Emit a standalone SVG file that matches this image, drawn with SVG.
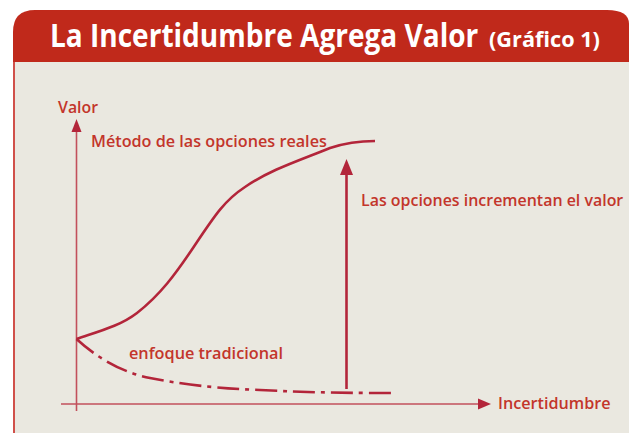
<svg xmlns="http://www.w3.org/2000/svg" width="629" height="433" viewBox="0 0 629 433">
<defs>
<style>
.lbl{font-family:"Open Sans","Liberation Sans",sans-serif;font-weight:600;font-size:17px;fill:#C3352B}
.title{font-family:"Open Sans","Liberation Sans",sans-serif;font-weight:700;fill:#FFFFFF}
.curve{fill:none;stroke:#B3253A;stroke-width:2.6;stroke-linecap:butt}
.axis{fill:none;stroke:#C2505C;stroke-width:1.6}
</style>
</defs>
<rect width="629" height="433" fill="#FFFFFF"/>
<g id="frame">
<path d="M13,433 L13,32 Q13,10 35,10 L607,10 Q629,10 629,24 L629,433 Z" fill="#C0291B"/>
<rect x="15" y="62" width="614" height="371" fill="#EAE8E0"/>
<rect x="13" y="62" width="2" height="371" fill="#D0504A"/>
</g>
<g id="title">
<text class="title" transform="matrix(0.86,0,0,1,50,47)" x="0" y="0" font-size="32" textLength="498" lengthAdjust="spacingAndGlyphs">La Incertidumbre Agrega Valor</text>
<text class="title" transform="matrix(0.86,0,0,1,489,47)" x="0" y="0" font-size="21" textLength="129" lengthAdjust="spacingAndGlyphs">(Gráfico 1)</text>
</g>
<g id="connectors">
<path class="axis" d="M76.5,411 L76.5,130" />
<path d="M76.5,119 L71.5,132 L81.5,132 Z" fill="#B3253A"/>
<path class="axis" d="M61,404 L479,404" />
<path d="M491,404 L478,398.5 L478,409.5 Z" fill="#B3253A"/>
<path class="curve" d="M76.5,339 C100,331 120,326 137,313 C160,295 175,275 195,245 C215,215 225,200 245,187 C270,170 295,162 330,148 C348,142 362,141 375,141"/>
<path class="curve" d="M76.5,339 C95,356 120,372 150,378 C190,386 230,389 260,390 C300,392 330,393 392,393" stroke-dasharray="22,6,4,6"/>
<path class="curve" d="M346.5,389 L346.5,172"/>
<path d="M346.5,159 L340,175 L353,175 Z" fill="#B3253A"/>
</g>
<g id="labels">
<text class="lbl" transform="matrix(0.88,0,0,1,58,113)" textLength="45.5" lengthAdjust="spacingAndGlyphs">Valor</text>
<text class="lbl" transform="matrix(0.88,0,0,1,91,147)" textLength="268" lengthAdjust="spacingAndGlyphs">Método de las opciones reales</text>
<text class="lbl" transform="matrix(0.88,0,0,1,361,206)" textLength="298" lengthAdjust="spacingAndGlyphs">Las opciones incrementan el valor</text>
<text class="lbl" transform="matrix(0.88,0,0,1,129,359)" textLength="175" lengthAdjust="spacingAndGlyphs">enfoque tradicional</text>
<text class="lbl" transform="matrix(0.88,0,0,1,498,409)" textLength="128" lengthAdjust="spacingAndGlyphs">Incertidumbre</text>
</g>
</svg>
